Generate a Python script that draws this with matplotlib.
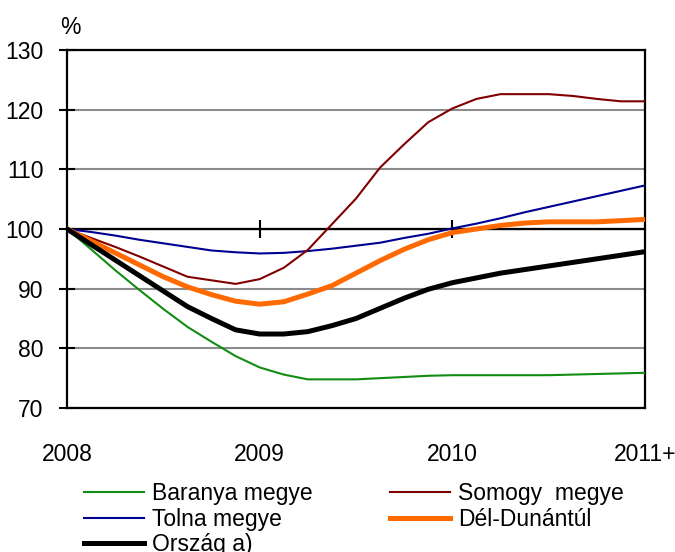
import numpy as np
import matplotlib
matplotlib.use("Agg")
import matplotlib.pyplot as plt

plt.rcParams['font.family'] = ['Liberation Sans Narrow', 'Liberation Sans', 'DejaVu Sans']

# period index: 8 steps per year, 2008 .. 2011
periods = np.arange(25)
year_ticks = [0, 8, 16, 24]
year_labels = ["2008", "2009", "2010", "2011+"]

baranya = [100, 96.6, 93.1, 89.8, 86.6, 83.6, 81.1, 78.7, 76.8, 75.6, 74.8, 74.8, 74.8,
           75.0, 75.2, 75.4, 75.5, 75.5, 75.5, 75.5, 75.5, 75.6, 75.7, 75.8, 75.9]
somogy = [100, 98.5, 97.0, 95.4, 93.7, 92.0, 91.4, 90.8, 91.6, 93.5, 96.5, 100.8, 105.1,
          110.3, 114.2, 117.9, 120.2, 121.8, 122.6, 122.6, 122.6, 122.3, 121.8, 121.4, 121.4]
tolna = [100, 99.5, 98.9, 98.2, 97.6, 97.0, 96.4, 96.1, 95.9, 96.0, 96.3, 96.7, 97.2,
         97.7, 98.5, 99.2, 100.1, 100.9, 101.8, 102.8, 103.7, 104.6, 105.5, 106.4, 107.3]
del_dunantul = [100, 98.0, 96.0, 94.0, 92.0, 90.3, 89.0, 87.9, 87.4, 87.8, 89.1, 90.5, 92.6,
                94.7, 96.6, 98.2, 99.4, 100.0, 100.6, 101.0, 101.2, 101.2, 101.2, 101.4, 101.6]
orszag = [100, 97.4, 94.8, 92.2, 89.6, 87.0, 85.0, 83.1, 82.4, 82.4, 82.8, 83.8, 85.0,
          86.7, 88.4, 89.9, 91.0, 91.8, 92.6, 93.2, 93.8, 94.4, 95.0, 95.6, 96.2]

FS = 16.5

fig = plt.figure(figsize=(6.75, 5.52), dpi=100)
ax = fig.add_axes([67/675, 1-408/552, (645-67)/675, (408-50)/552])

ax.axhline(100, color='black', lw=1.6, zorder=1)
l_bar, = ax.plot(periods, baranya, color='#128c12', lw=1.5, label='Baranya megye', zorder=3)
l_tol, = ax.plot(periods, tolna, color='#000090', lw=1.5, label='Tolna megye', zorder=3)
l_som, = ax.plot(periods, somogy, color='#800000', lw=1.5, label='Somogy  megye', zorder=3)
l_del, = ax.plot(periods, del_dunantul, color='#ff6a00', lw=3.6, label='Dél-Dunántúl', zorder=3)
l_ors, = ax.plot(periods, orszag, color='black', lw=3.6, label='Ország a)', zorder=3)

ax.set_xlim(0, 24)
ax.set_ylim(70, 130)
ax.set_yticks([70, 80, 90, 100, 110, 120, 130])
ax.set_xticks(year_ticks)
ax.set_xticklabels(year_labels)
ax.tick_params(axis='x', length=0, pad=25, labelsize=FS)
ax.tick_params(axis='y', direction='inout', length=12, width=1.5, pad=11, labelsize=FS)
ax.grid(axis='y', color='#8c8c8c', lw=1.5, zorder=0)
ax.set_axisbelow(True)
for s in ax.spines.values():
    s.set_linewidth(1.6)
    s.set_color('black')

# year ticks on the 100 line
secax = ax.secondary_xaxis((100 - 70) / 60)
secax.set_xticks([8, 16])
secax.set_xticklabels([])
secax.tick_params(direction='inout', length=13, width=1.5)

fig.text(70/675, 1-27/552, '%', ha='center', va='center', fontsize=FS)

fig.legend(handles=[l_bar, l_tol, l_ors, l_som, l_del], ncol=2,
           loc='upper left', bbox_to_anchor=(84/675, 1-482/552),
           frameon=False, fontsize=FS, handlelength=2.6, handletextpad=0.35,
           columnspacing=3.4, labelspacing=0.12, borderpad=0, borderaxespad=0)

fig.savefig('out.png', dpi=100)
